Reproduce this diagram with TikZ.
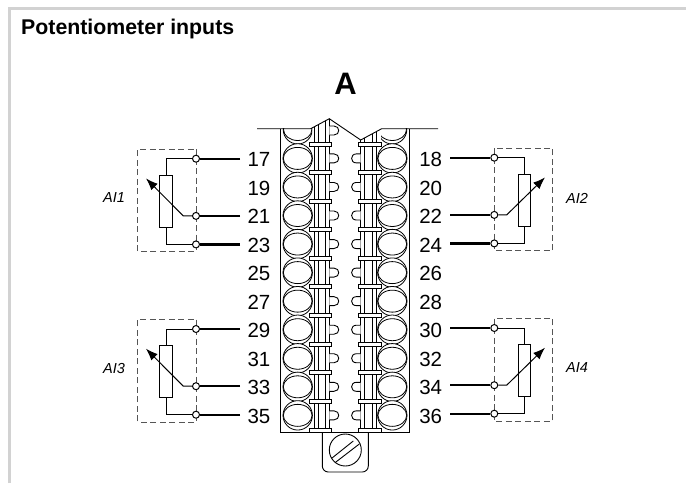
\documentclass[tikz,border=0pt]{standalone}
\usepackage{fontspec}
\setmainfont{Liberation Sans}
\usetikzlibrary{arrows.meta}
\definecolor{framegray}{HTML}{D2D2D2}
\definecolor{dashgray}{HTML}{555555}
\tikzset{
  x=1pt,y=-1pt,
  thin wire/.style={line width=1pt,black},
  thick wire/.style={line width=2.2pt,black},
  terminal/.style={circle,draw=black,fill=white,line width=1pt,minimum size=7pt,inner sep=0pt},
  pot body/.style={rectangle,draw=black,fill=white,line width=1pt,minimum width=12.6pt,minimum height=52.5pt,inner sep=0pt},
  dash box/.style={draw=dashgray,line width=0.9pt,dash pattern=on 6pt off 3.5pt},
  wiper/.style={line width=1pt,black,-{Latex[length=12pt,width=9pt]}},
  pin num/.style={font=\fontsize{20.5}{22}\selectfont,inner sep=0pt},
  ai label/.style={font=\fontsize{14.5}{16}\itshape\selectfont,inner sep=0pt},
  plate/.style={draw=black,fill=white,line width=0.9pt},
  part/.style={line width=0.9pt,black},
  ring/.style={line width=0.8pt,black},
}
\newcommand{\potunit}[8]{%
% #1 prefix, #2 terminal x, #3 top y, #4 outer dash x, #5 pot cx, #6 wire end x, #7 wiper elbow x, #8 tip x
  \draw[dash box] (#2,#3-9.5) rectangle (#4,#3+93);
  \node[terminal] (#1t) at (#2,#3) {};
  \node[terminal] (#1m) at (#2,#3+57.2) {};
  \node[terminal] (#1b) at (#2,#3+85.7) {};
  \coordinate (#1te) at (#6,#3);
  \coordinate (#1me) at (#6,#3+57.2);
  \coordinate (#1be) at (#6,#3+85.7);
  \node[pot body] (#1p) at (#5,#3+42.6) {};
  \coordinate (#1e) at (#7,#3+57.2);
  \coordinate (#1a) at (#8,#3+19.7);
  \draw[thin wire] (#1t) -| (#1p.north);
  \draw[thin wire] (#1b) -| (#1p.south);
  \draw[thick wire] (#1te) -- (#1t);
  \draw[thick wire] (#1me) -- (#1m);
  \draw[thick wire] (#1be) -- (#1b);
  \draw[wiper] (#1m) -- (#1e) -- (#1a);
}
\begin{document}
\begin{tikzpicture}
\useasboundingbox (0,0) rectangle (686,483);
% frame
\coordinate (fa) at (9.5,483); \coordinate (fb) at (9.5,8.5); \coordinate (fc) at (686,8.5);
\draw[framegray,line width=2.6pt] (fa) -- (fb) -- (fc);
\node[anchor=base west,inner sep=0pt,font=\fontsize{21.3}{24}\bfseries\selectfont] (title) at (21,34) {Potentiometer inputs};
\node[font=\fontsize{31}{32}\bfseries\selectfont,inner sep=0pt] (headA) at (345.5,83.5) {A};

% terminal block body
\draw[part] (280.7,128.7) -- (280.7,432) -- (409,432) -- (409,128.7);
\draw[part] (257,128.7) -- (310.7,128.7) -- (329.3,118.7) -- (360.7,140) -- (381.7,128.7) -- (438,128.7);

% top partial clamps
\begin{scope}
\clip (281,128.7) rectangle (312,160);
\draw[ring] (297.7,129.5) circle (14.5);
\draw[ring] (297.7,129.5) ellipse (14.2 and 11);
\end{scope}
\begin{scope}
\clip (381,128.7) rectangle (409,160);
\draw[ring] (392.3,129.5) circle (14.5);
\draw[ring] (392.3,129.5) ellipse (14.2 and 11);
\end{scope}

% screw shafts
\foreach \xx in {314,318,325.5,329.3} \draw[part] (\xx,{128.7-(\xx-310.7)*0.54}) -- (\xx,430);
\foreach \xx in {360.7,364,372.3,376} \draw[part] (\xx,{140-(\xx-360.7)*0.54}) -- (\xx,430);

% rows
\foreach \k in {0,...,9}{
  \pgfmathsetmacro{\yy}{158.4+28.55*\k}
  \draw[ring,fill=white] (297.7,\yy) circle (14.7);
  \draw[ring] (297.7,\yy) ellipse (14.4 and 11);
  \draw[ring,fill=white] (392.3,\yy) circle (14.7);
  \draw[ring] (392.3,\yy) ellipse (14.4 and 11);
  \draw[part,fill=white] (329.3,\yy-4.5) -- (334,\yy-4.5) .. controls (340.3,\yy-4.5) and (340.3,\yy+4.5) .. (334,\yy+4.5) -- (329.3,\yy+4.5);
  \draw[part,fill=white] (360.7,\yy-4.5) -- (356.4,\yy-4.5) .. controls (350,\yy-4.5) and (350,\yy+4.5) .. (356.4,\yy+4.5) -- (360.7,\yy+4.5);
  \ifnum\k<9\relax
  \pgfmathsetmacro{\yp}{\yy+14.3}
  \draw[plate] (309,\yp-2) rectangle (331.7,\yp+2);
  \draw[plate] (358.3,\yp-2) rectangle (381.3,\yp+2);
  \fi
}
% top bumps and plates
\draw[part,fill=white] (329.3,126) -- (334,126) .. controls (340.3,126) and (340.3,135) .. (334,135) -- (329.3,135);
\draw[plate] (309,142.5) rectangle (331.7,146.5);
\draw[plate] (358.3,142.5) rectangle (381.3,146.5);
% bottom plates
\draw[plate] (309,428.5) rectangle (331.7,432);
\draw[plate] (358.3,428.5) rectangle (381.3,432);

% mounting tab
\draw[part,rounded corners=6pt] (322.3,432) -- (322.3,472) -- (368.3,472) -- (368.3,432);
\node[circle,draw=black,line width=0.9pt,minimum size=32pt,inner sep=0pt] (screw) at (345.3,450) {};
\draw[part] (331.7,458.3) -- (353.3,441);
\draw[part] (335,462.7) -- (359.3,444);

% pin numbers
\foreach \k/\n in {0/17,1/19,2/21,3/23,4/25,5/27,6/29,7/31,8/33,9/35}
  \node[pin num] (n\n) at (259,{159.4+28.55*\k}) {\n};
\foreach \k/\n in {0/18,1/20,2/22,3/24,4/26,5/28,6/30,7/32,8/34,9/36}
  \node[pin num] (n\n) at (430.7,{159.4+28.55*\k}) {\n};

% potentiometers
\potunit{a}{196}{158.7}{137.7}{166}{240}{183.3}{146}
\potunit{b}{494.3}{157.7}{552.7}{524.4}{450}{506.7}{545}
\potunit{c}{196}{329}{137.7}{166}{240}{183.3}{146}
\potunit{d}{494.3}{328}{552.7}{524.4}{450}{506.7}{545}

\node[ai label] (ai1) at (114,198) {AI1};
\node[ai label] (ai2) at (577,198) {AI2};
\node[ai label] (ai3) at (114,369) {AI3};
\node[ai label] (ai4) at (577,368) {AI4};
\end{tikzpicture}
\end{document}
